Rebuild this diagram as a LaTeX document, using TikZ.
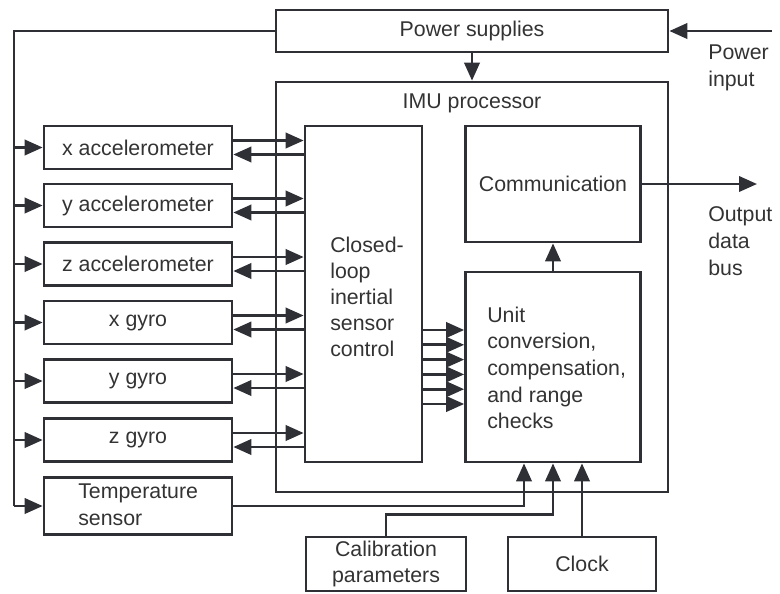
\documentclass[tikz,border=0pt]{standalone}
\usepackage{fontspec}
\setmainfont{Liberation Sans}
\usetikzlibrary{arrows.meta,calc}
\definecolor{ln}{HTML}{2E3036}
\definecolor{tx}{HTML}{333333}
\begin{document}
\begin{tikzpicture}[x=0.75pt,y=-0.75pt,
  box/.style={draw=ln,line width=2pt,rectangle,inner sep=0pt,text=tx,font=\fontsize{16}{20}\selectfont,align=center},
  lbl/.style={inner sep=0pt,text=tx,font=\fontsize{16}{20}\selectfont},
  wire/.style={draw=ln,line width=2pt},
  arr/.style={wire,-{Triangle[length=13.5pt,width=11.5pt]}},
  sensor/.style={box,minimum width=141pt,minimum height=32.25pt}]
\useasboundingbox (0,0) rectangle (780,593);
% main boxes
\node[box,minimum width=294pt,minimum height=31.5pt] (ps) at (472,31) {Power supplies};
\node[box,minimum width=294pt,minimum height=307.5pt] (imu) at (472,287) {};
\node[lbl] (imut) at (472,103) {IMU processor};
\node[box,minimum width=87.75pt,minimum height=252pt] (cl) at (363.5,294) {};
\node[lbl,align=left,anchor=west,font=\fontsize{16}{19.5}\selectfont] (clt) at (330,297) {Closed-\\loop\\inertial\\sensor\\control};
\node[box,minimum width=131.25pt,minimum height=87pt] (comm) at (553,184) {Communication};
\node[box,minimum width=131.25pt,minimum height=142.5pt] (unit) at (553,367) {};
\node[lbl,align=left,anchor=west] (unitt) at (487,368) {Unit\\conversion,\\compensation,\\and range\\checks};
% sensors
\node[sensor] (xa) at (138,147.5) {x accelerometer};
\node[sensor] (ya) at (138,205.5) {y accelerometer};
\node[sensor] (za) at (138,264) {z accelerometer};
\node[sensor] (xg) at (138,322.5) {x gyro};
\node[sensor] (yg) at (138,381) {y gyro};
\node[sensor] (zg) at (138,440) {z gyro};
\node[box,minimum width=141pt,minimum height=42.75pt] (temp) at (138,506) {};
\node[lbl,align=left,anchor=west] (tempt) at (78,505) {Temperature\\sensor};
\node[box,minimum width=120pt,minimum height=40.5pt] (cal) at (386,564) {Calibration\\parameters};
\node[box,minimum width=111pt,minimum height=40.5pt] (clk) at (582,564) {Clock};
% outside labels
\node[lbl,align=left,anchor=west] (pint) at (708,68) {Power\\input};
\node[lbl,align=left,anchor=west] (obus) at (708,241) {Output\\data\\bus};
% power bus
\coordinate (bus) at (14,31);
\coordinate (pin) at (772,31);
\coordinate (out) at (757,184);
\draw[wire] (ps.west) -- (bus) -- (bus |- temp.west);
\foreach \s in {xa,ya,za,xg,yg,zg,temp}
  \draw[arr] (bus |- \s.west) -- (\s.west);
\draw[arr] (pin) -- (ps.east);
\draw[arr] (ps.south) -- (imu.north);
% sensor <-> closed loop
\foreach \s in {xa,ya,za,xg,yg,zg}{
  \draw[arr] ([yshift=5.25pt]\s.east) -- ([yshift=5.25pt]\s.east -| cl.west);
  \draw[arr] ([yshift=-5.25pt]\s.east -| cl.west) -- ([yshift=-5.25pt]\s.east);
}
% closed loop -> unit
\foreach \k in {0,...,5}
  \draw[arr] ([yshift={-27pt-11.1pt*\k}]cl.east) -- ([yshift={-27pt-11.1pt*\k}]cl.east -| unit.west);
% unit -> comm -> output
\draw[arr] (unit.north) -- (comm.south);
\draw[arr] (comm.east) -- (out);
% bottom inputs
\draw[arr] (temp.east) -| ([xshift=-21.75pt]unit.south);
\draw[arr] (cal.north) |- ++(0,-21) -| (unit.south);
\draw[arr] (clk.north) -- (clk.north |- unit.south);
\end{tikzpicture}
\end{document}
